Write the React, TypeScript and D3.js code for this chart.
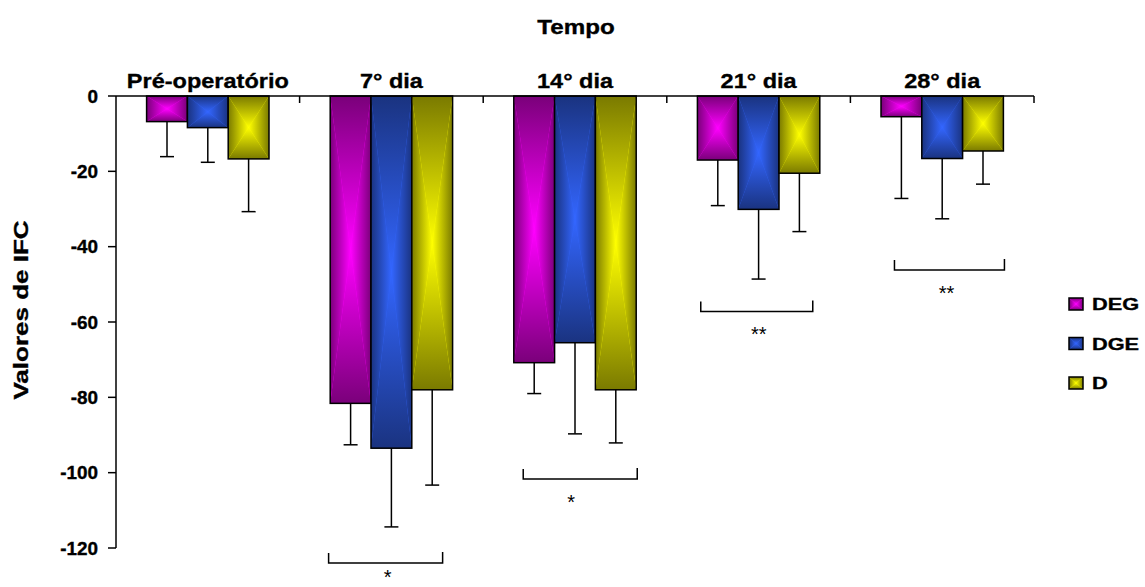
import React from "react";
import * as d3 from "d3";

// categories, series and values
const categories = ["Pré-operatório", "7° dia", "14° dia", "21° dia", "28° dia"];
const series = ["DEG", "DGE", "D"];
const degMeans = [-6.8, -81.6, -70.8, -17.0, -5.5];
const degErrs = [9.3, 11.0, 8.2, 12.1, 21.7];
const dgeMeans = [-8.4, -93.5, -65.5, -30.1, -16.6];
const dgeErrs = [9.2, 20.9, 24.2, 18.5, 16.0];
const dMeans = [-16.7, -78.0, -78.0, -20.5, -14.6];
const dErrs = [14.0, 25.3, 14.1, 15.5, 8.8];
const yTicks = [0, -20, -40, -60, -80, -100, -120];
// significance brackets (level, start/end as share of the band, label)
const bracketCats = ["7° dia", "14° dia", "21° dia", "28° dia"];
const bracketLevels = [-124.0, -101.7, -57.2, -46.2];
const bracketStart = [0.158, 0.218, 0.185, 0.24];
const bracketEnd = [0.779, 0.839, 0.795, 0.839];
const bracketStarX = [0.479, 0.479, 0.501, 0.523];
const bracketMarks = ["*", "*", "**", "**"];

const palette: Record<string, [string, string]> = {
  DEG: ["#ff00ff", "#7a007a"],
  DGE: ["#3366ff", "#1a3380"],
  D: ["#ffff00", "#7a7a00"],
};

const W = 1145, H = 587;
const FONT = "Arial, 'Liberation Sans', sans-serif";

const meansBy: Record<string, number[]> = { DEG: degMeans, DGE: dgeMeans, D: dMeans };
const errsBy: Record<string, number[]> = { DEG: degErrs, DGE: dgeErrs, D: dErrs };

// bold text that is a bit stretched along its line, like the picture
function SText({ x, y, size, sx = 1, anchor = "middle", rotate = 0, weight = "bold", children }: any) {
  return (
    <g transform={`translate(${x},${y}) rotate(${rotate}) scale(${sx},1)`}>
      <text textAnchor={anchor} fontSize={size} fontWeight={weight} fontFamily={FONT} fill="#000"
        stroke={weight === "bold" ? "#000" : "none"} strokeWidth={0.35}>
        {children}
      </text>
    </g>
  );
}

// bar with a "from centre" rectangle gradient: four triangles
function GradBar({ x, y, w, h, id }: any) {
  const cx = x + w / 2, cy = y + h / 2;
  return (
    <g>
      <rect x={x} y={y} width={w} height={h} fill={palette[id][0]} />
      <polygon points={`${x},${y} ${x + w},${y} ${cx},${cy}`} fill={`url(#${id}-t)`} />
      <polygon points={`${x},${y + h} ${x + w},${y + h} ${cx},${cy}`} fill={`url(#${id}-b)`} />
      <polygon points={`${x},${y} ${x},${y + h} ${cx},${cy}`} fill={`url(#${id}-l)`} />
      <polygon points={`${x + w},${y} ${x + w},${y + h} ${cx},${cy}`} fill={`url(#${id}-r)`} />
      <rect x={x} y={y} width={w} height={h} fill="none" stroke="#000" strokeWidth={1.5} />
    </g>
  );
}

export default function App() {
  const x = d3.scaleBand().domain(categories).range([116, 1034]).padding(0);
  const xSub = d3.scaleBand().domain(series).range([0, x.bandwidth()]).paddingInner(0).paddingOuter(0.75);
  const y = d3.scaleLinear().domain([-120, 0]).range([548, 96]);
  const y0 = y(0);

  const dirs: [string, number, number, number, number][] = [
    ["t", 0, 0, 0, 1],
    ["b", 0, 1, 0, 0],
    ["l", 0, 0, 1, 0],
    ["r", 1, 0, 0, 0],
  ];

  return (
    <svg width={W} height={H} style={{ position: "absolute", left: 0, top: 0, background: "#fff" }}>
      <defs>
        {series.map(s =>
          dirs.map(([d, x1, y1, x2, y2]) => (
            <linearGradient key={s + d} id={`${s}-${d}`} x1={x1} y1={y1} x2={x2} y2={y2}>
              <stop offset="0" stopColor={palette[s][1]} />
              <stop offset="1" stopColor={palette[s][0]} />
            </linearGradient>
          ))
        )}
      </defs>
      <rect width={W} height={H} fill="#fff" />

      {/* title */}
      <SText x={576} y={34} size={21} sx={1.15}>Tempo</SText>

      {/* category labels above the zero line */}
      {categories.map(c => (
        <SText key={c} x={x(c)! + x.bandwidth() / 2} y={88} size={21} sx={1.12}>{c}</SText>
      ))}

      {/* bars */}
      {categories.map((c, i) =>
        series.map(s => {
          const v = meansBy[s][i];
          const bx = x(c)! + xSub(s)!;
          return <GradBar key={c + s} x={bx} y={y0} w={xSub.bandwidth()} h={y(v) - y0} id={s} />;
        })
      )}

      {/* error bars (downwards only) */}
      {categories.map((c, i) =>
        series.map(s => {
          const v = meansBy[s][i];
          const e = errsBy[s][i];
          const cx = x(c)! + xSub(s)! + xSub.bandwidth() / 2;
          return (
            <g key={"e" + c + s} stroke="#000" strokeWidth={1.5}>
              <line x1={cx} x2={cx} y1={y(v)} y2={y(v - e)} />
              <line x1={cx - 7} x2={cx + 7} y1={y(v - e)} y2={y(v - e)} />
            </g>
          );
        })
      )}

      {/* y axis */}
      <line x1={116} x2={116} y1={y0} y2={y(-120)} stroke="#000" strokeWidth={1.5} />
      {yTicks.map(t => (
        <g key={t}>
          <line x1={108} x2={116} y1={y(t)} y2={y(t)} stroke="#000" strokeWidth={1.5} />
          <SText x={98} y={y(t) + 6.5} size={18} sx={1.05} anchor="end">{String(t)}</SText>
        </g>
      ))}
      <SText x={28} y={310} size={20} sx={1.3} rotate={-90}>Valores de IFC</SText>

      {/* zero line with category ticks */}
      <line x1={116} x2={1034} y1={y0} y2={y0} stroke="#000" strokeWidth={1.5} />
      {categories.map(c => (
        <line key={"t" + c} x1={x(c)! + x.bandwidth()} x2={x(c)! + x.bandwidth()} y1={y0} y2={y0 + 7} stroke="#000" strokeWidth={1.5} />
      ))}

      {/* significance brackets */}
      {bracketCats.map((c, i) => {
        const bx = x(c)!, bw = x.bandwidth();
        const by = y(bracketLevels[i]);
        const xa = bx + bracketStart[i] * bw, xb = bx + bracketEnd[i] * bw;
        return (
          <g key={"br" + c}>
            <path d={`M${xa},${by - 10}V${by}H${xb}V${by - 11}`} fill="none" stroke="#000" strokeWidth={1.5} />
            <SText x={bx + bracketStarX[i] * bw} y={Math.min(by + 30, 584)} size={20} weight="normal">{bracketMarks[i]}</SText>
          </g>
        );
      })}

      {/* legend */}
      {series.map((s, i) => {
        const ly = 304 + i * 39.5;
        return (
          <g key={"lg" + s}>
            <GradBar x={1069} y={ly - 6} w={14} h={12} id={s} />
            <SText x={1092} y={ly + 6} size={17} sx={1.28} anchor="start">{s}</SText>
          </g>
        );
      })}
    </svg>
  );
}
